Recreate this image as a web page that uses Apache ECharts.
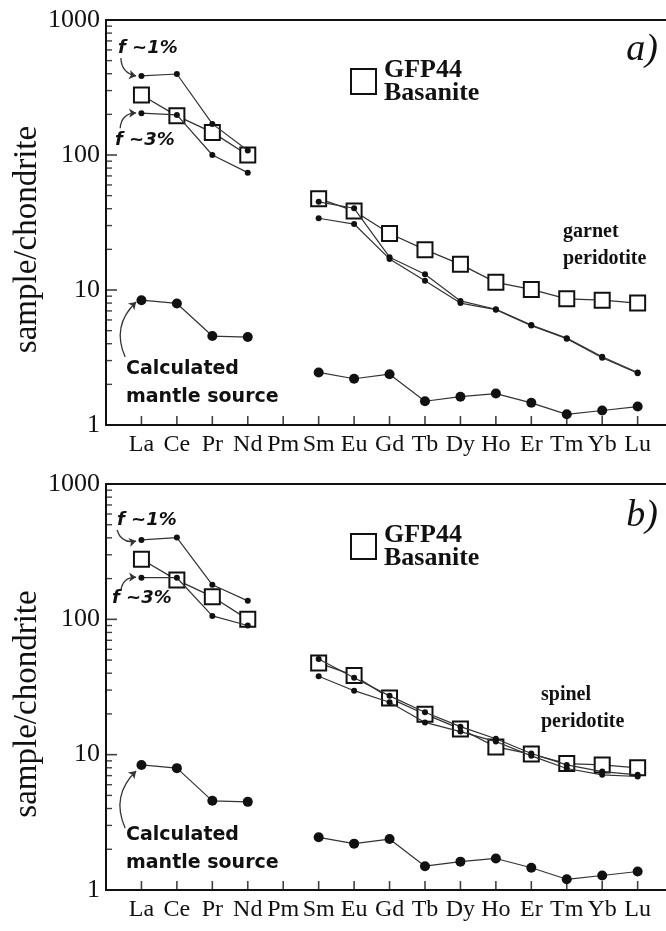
<!DOCTYPE html>
<html>
<head>
<meta charset="utf-8">
<script src="https://cdn.jsdelivr.net/npm/echarts@6/dist/echarts.min.js"></script>
<style>html,body{margin:0;padding:0;background:#fff}#c{width:666px;height:931px}</style>
</head>
<body>
<div id="c"></div>
<script>
const elements = ['La','Ce','Pr','Nd','Pm','Sm','Eu','Gd','Tb','Dy','Ho','Er','Tm','Yb','Lu'];
const basanite     = [278, 195, 147, 100, null, 47.5, 38.5, 26.2, 19.9, 15.5, 11.4, 10.1, 8.6, 8.4, 8.0];
const mantleSource = [8.4, 7.95, 4.56, 4.48, null, 2.45, 2.2, 2.38, 1.5, 1.62, 1.71, 1.46, 1.2, 1.28, 1.37];
const garnetF1 = [385, 398, 170, 108, null, 45, 40.3, 17.5, 13.1, 8.3, 7.2, 5.5, 4.4, 3.2, 2.45];
const garnetF3 = [204, 198, 100, 74, null, 34, 30.8, 17.0, 11.7, 8.0, 7.15, 5.45, 4.35, 3.15, 2.42];
const spinelF1 = [386, 402, 180, 137, null, 51, 37, 27.2, 20.6, 16.1, 13.1, 10.2, 8.4, 7.5, 7.1];
const spinelF3 = [203, 203, 106, 90, null, 38, 29.7, 24.4, 17.3, 14.8, 12.5, 9.8, 7.9, 7.1, 6.9];
const yTicks = [1, 10, 100, 1000];
const minorMultipliers = [2, 3, 4, 5, 6, 7, 8, 9];

// annotation arrows (label -> point), in axis units
const arrowsA = [
  { from: [0.42, 523], to: [0.85, 385], bend: -0.4 },
  { from: [0.40, 158], to: [0.85, 205], bend: 0.45 },
  { from: [0.54, 3.19], to: [0.85, 8.15], bend: 0.35 }
];
const arrowsB = [
  { from: [0.31, 457], to: [0.85, 379], bend: -0.45 },
  { from: [0.42, 162], to: [0.85, 205], bend: 0.45 },
  { from: [0.54, 2.87], to: [0.85, 7.57], bend: 0.35 }
];

const SERIF = '"Liberation Serif", "Times New Roman", serif';
const SANS = '"DejaVu Sans", sans-serif';
const toPairs = arr => arr.map((v, i) => [i + 1, v === null ? '-' : v]);
const minorValues = [];
yTicks.slice(0, -1).forEach(d => minorMultipliers.forEach(k => minorValues.push(d * k)));

function xAxisFor(g) {
  return {
    gridIndex: g, type: 'value', min: 0, max: 15.8, interval: 1,
    axisLine: { show: true, lineStyle: { color: '#111', width: 2 } },
    axisTick: { show: false },
    axisLabel: {
      margin: 8, color: '#111', fontFamily: SERIF, fontSize: 24,
      formatter: v => (Number.isInteger(v) && v >= 1 && v <= elements.length) ? elements[v - 1] : ''
    },
    splitLine: { show: false }
  };
}
function topAxisFor(g) {
  return {
    gridIndex: g, type: 'value', min: 0, max: 15.8, position: 'top',
    axisLine: { show: true, lineStyle: { color: '#111', width: 2 } },
    axisTick: { show: false }, axisLabel: { show: false }, splitLine: { show: false }
  };
}
function yAxisFor(g) {
  return {
    gridIndex: g, type: 'log', logBase: 10, min: yTicks[0], max: yTicks[yTicks.length - 1],
    name: 'sample/chondrite', nameLocation: 'middle', nameGap: 62, nameMoveOverlap: false,
    nameTextStyle: { fontFamily: SERIF, fontSize: 33, color: '#111', padding: [0, 34, 0, 0] },
    axisLine: { show: true, lineStyle: { color: '#111', width: 2 } },
    axisTick: { show: false },
    minorTick: { show: false },
    axisLabel: { margin: 6, color: '#111', fontFamily: SERIF, fontSize: 26, formatter: v => String(v) },
    splitLine: { show: false }, minorSplitLine: { show: false }
  };
}
// tick marks drawn through the axes' own scales
function tickSeries(g) {
  const base = {
    type: 'scatter', xAxisIndex: g * 2, yAxisIndex: g, silent: true, clip: false, z: 6,
    symbol: 'rect', itemStyle: { color: '#111' }, animation: false
  };
  return [
    Object.assign({}, base, { name: 'xticks' + g, data: elements.map((e, i) => [i + 1, yTicks[0]]),
      symbolSize: [1.6, 9], symbolOffset: [0, -4.5] }),
    Object.assign({}, base, { name: 'yticks' + g, data: yTicks.map(v => [0, v]),
      symbolSize: [11, 1.6], symbolOffset: [5.5, 0] }),
    Object.assign({}, base, { name: 'yminor' + g, data: minorValues.map(v => [0, v]),
      symbolSize: [6, 1.4], symbolOffset: [3, 0] })
  ];
}
function basaniteSeries(g) {
  return {
    name: 'GFP44\nBasanite', type: 'line', xAxisIndex: g * 2, yAxisIndex: g,
    data: toPairs(basanite), symbol: 'rect', symbolSize: 15, z: 2,
    lineStyle: { color: '#333', width: 1.3 },
    itemStyle: { color: '#fff', borderColor: '#111', borderWidth: 2 },
    connectNulls: false, animation: false
  };
}
function dotSeries(name, arr, g, size, z) {
  return {
    name: name, type: 'line', xAxisIndex: g * 2, yAxisIndex: g,
    data: toPairs(arr), symbol: 'circle', symbolSize: size, z: z,
    lineStyle: { color: '#333', width: 1.2 },
    itemStyle: { color: '#111', borderColor: '#111', borderWidth: 0 },
    connectNulls: false, animation: false
  };
}
function arrowSeries(g, arrows) {
  return {
    name: 'arrows' + g, type: 'lines', coordinateSystem: 'cartesian2d',
    xAxisIndex: g * 2, yAxisIndex: g, silent: true, z: 5,
    symbol: ['none', 'arrow'], symbolSize: 7,
    lineStyle: { color: '#333', width: 1.3, opacity: 1 },
    data: arrows.map(a => ({ coords: [a.from, a.to], lineStyle: { curveness: a.bend } })),
    animation: false
  };
}
function legendFor(top) {
  return {
    data: ['GFP44\nBasanite'], left: 350, top: top, padding: 0,
    icon: 'rect', itemWidth: 25, itemHeight: 25,
    itemStyle: { color: '#fff', borderColor: '#111', borderWidth: 2 },
    textStyle: { fontFamily: SERIF, fontWeight: 'bold', fontSize: 26, lineHeight: 23, color: '#111', padding: [0, 0, 0, 3] },
    selectedMode: false
  };
}

function note(text, left, top, style, right) {
  const t = {
    text: text, top: top, padding: 0, itemGap: 0,
    textStyle: Object.assign({ color: '#111' }, style)
  };
  if (right !== undefined) t.right = right; else t.left = left;
  return t;
}
const fStyle = { fontFamily: SANS, fontStyle: 'italic', fontWeight: 'bold', fontSize: 18, lineHeight: 22 };
const srcStyle = { fontFamily: SANS, fontWeight: 'bold', fontSize: 19, lineHeight: 28 };
const rockStyle = { fontFamily: SERIF, fontWeight: 'bold', fontSize: 20, lineHeight: 27 };
const panelStyle = { fontFamily: SERIF, fontStyle: 'italic', fontWeight: 'normal', fontSize: 38, lineHeight: 40 };

const titles = [
  note('a)', null, 30, panelStyle, 8),
  note('f ~1%', 118, 37, fStyle),
  note('f ~3%', 115, 129, fStyle),
  note('Calculated\nmantle source', 126, 355, srcStyle),
  note('garnet\nperidotite', 563, 218, rockStyle),
  note('b)', null, 496, panelStyle, 8),
  note('f ~1%', 117, 509, fStyle),
  note('f ~3%', 112, 587, fStyle),
  note('Calculated\nmantle source', 126, 821, srcStyle),
  note('spinel\nperidotite', 541, 681, rockStyle)
];

const option = {
  backgroundColor: '#fff',
  animation: false,
  title: titles,
  grid: [
    { left: 106, top: 20, width: 560, height: 405, containLabel: false, outerBoundsMode: 'none' },
    { left: 106, top: 484, width: 560, height: 406, containLabel: false, outerBoundsMode: 'none' }
  ],
  xAxis: [xAxisFor(0), topAxisFor(0), xAxisFor(1), topAxisFor(1)],
  yAxis: [yAxisFor(0), yAxisFor(1)],
  legend: [legendFor(57), legendFor(522)],
  series: [
    basaniteSeries(0),
    dotSeries('Calculated mantle source', mantleSource, 0, 10, 3),
    dotSeries('f ~1% garnet', garnetF1, 0, 6, 4),
    dotSeries('f ~3% garnet', garnetF3, 0, 6, 4),
    arrowSeries(0, arrowsA),
    ...tickSeries(0),
    basaniteSeries(1),
    dotSeries('Calculated mantle source b', mantleSource, 1, 10, 3),
    dotSeries('f ~1% spinel', spinelF1, 1, 6, 4),
    dotSeries('f ~3% spinel', spinelF3, 1, 6, 4),
    arrowSeries(1, arrowsB),
    ...tickSeries(1)
  ]
};

const chart = echarts.init(document.getElementById('c'), null, { renderer: 'canvas' });
chart.setOption(option);
</script>
</body>
</html>
